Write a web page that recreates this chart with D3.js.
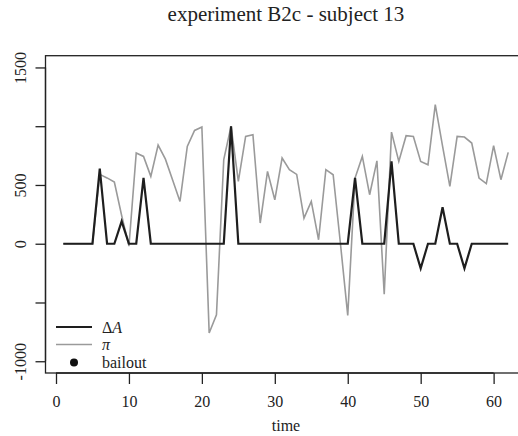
<!DOCTYPE html>
<html>
<head>
<meta charset="utf-8">
<script src="https://cdn.jsdelivr.net/npm/d3@7/dist/d3.min.js"></script>
<style>
  html, body { margin: 0; padding: 0; background: #fff; }
  svg { display: block; }
  text { font-family: "Liberation Serif", "DejaVu Serif", serif; fill: #222; }
</style>
</head>
<body>
<svg id="chart" width="518" height="436"></svg>
<script>
const title = "experiment B2c - subject 13";
const xLabel = "time";
const time = [1,2,3,4,5,6,7,8,9,10,11,12,13,14,15,16,17,18,19,20,21,22,23,24,25,26,27,28,29,30,31,
              32,33,34,35,36,37,38,39,40,41,42,43,44,45,46,47,48,49,50,51,52,53,54,55,56,57,58,59,60,61,62];
const deltaA = [0,0,0,0,0,640,0,0,190,0,0,560,0,0,0,0,0,0,0,0,0,0,0,1000,0,0,0,0,0,0,0,
                0,0,0,0,0,0,0,0,0,560,0,0,0,0,700,0,0,0,-210,0,0,310,0,0,-210,0,0,0,0,0,0];
const pi = [0,0,0,0,0,590,560,525,240,-20,772,743,573,840,720,540,360,828,964,993,-760,-604,715,1000,530,913,928,176,616,374,729,
            630,590,218,360,34,630,587,0,-610,559,743,417,705,-430,950,700,919,913,700,672,1183,830,488,913,908,857,559,511,834,545,777];
const xTicks = [0,10,20,30,40,50,60];
const yTicks = [-1000,-500,0,500,1000,1500];
const yTickLabels = ["-1000","","0","500","","1500"];
const legendLabels = ["\u0394A", "\u03C0", "bailout"];

const svg = d3.select("#chart");
const x = d3.scaleLinear().domain([-1.44, 64.44]).range([45.5, 526]);
const y = d3.scaleLinear().domain([-1100, 1600]).range([373, 55.7]);

// plot box
svg.append("rect")
  .attr("x", x.range()[0]).attr("y", y.range()[1])
  .attr("width", x.range()[1] - x.range()[0])
  .attr("height", y.range()[0] - y.range()[1])
  .attr("fill", "none").attr("stroke", "#222").attr("stroke-width", 1.3);

// x axis
const xAxis = svg.append("g").attr("transform", `translate(0,${y.range()[0]})`)
  .call(d3.axisBottom(x).tickValues(xTicks).tickSize(11).tickPadding(12).tickSizeOuter(0));
xAxis.select(".domain").attr("d", `M${x(xTicks[0])},0H${x(xTicks[xTicks.length-1])}`).attr("stroke", "#222").attr("stroke-width", 1.3);
xAxis.selectAll(".tick line").attr("stroke", "#222").attr("stroke-width", 1.3);
xAxis.selectAll(".tick text").attr("font-size", 16).attr("font-family", "Liberation Serif").attr("fill", "#222");

// y axis
const yAxis = svg.append("g").attr("transform", `translate(${x.range()[0]},0)`)
  .call(d3.axisLeft(y).tickValues(yTicks).tickSize(10).tickSizeOuter(0)
    .tickFormat((d, i) => yTickLabels[i]));
yAxis.select(".domain").attr("d", `M0,${y(yTicks[0])}V${y(yTicks[yTicks.length-1])}`).attr("stroke", "#222").attr("stroke-width", 1.3);
yAxis.selectAll(".tick line").attr("stroke", "#222").attr("stroke-width", 1.3);
yAxis.selectAll(".tick text")
  .attr("font-size", 16).attr("font-family", "Liberation Serif").attr("fill", "#222")
  .attr("x", null).attr("dy", null)
  .attr("text-anchor", "middle")
  .attr("transform", "translate(-20,0) rotate(-90)");

// lines
const line = d3.line().x((d, i) => x(time[i])).y(d => y(d));
svg.append("path").datum(pi).attr("d", line)
  .attr("fill", "none").attr("stroke", "#9a9a9a").attr("stroke-width", 1.6).attr("stroke-linejoin", "miter");
svg.append("path").datum(deltaA).attr("d", line)
  .attr("fill", "none").attr("stroke", "#1e1e1e").attr("stroke-width", 2.2).attr("stroke-linejoin", "miter");

// title
svg.append("text").attr("x", 286).attr("y", 21).attr("text-anchor", "middle")
  .attr("font-size", 21).text(title);

// x label
svg.append("text").attr("x", 286).attr("y", 431).attr("text-anchor", "middle")
  .attr("font-size", 16).text(xLabel);

// legend
const lg = svg.append("g");
const ly = [327, 344.5, 362.5];
lg.append("line").attr("x1", 56).attr("x2", 92).attr("y1", ly[0]).attr("y2", ly[0])
  .attr("stroke", "#1e1e1e").attr("stroke-width", 2.2);
lg.append("line").attr("x1", 56).attr("x2", 92).attr("y1", ly[1]).attr("y2", ly[1])
  .attr("stroke", "#9a9a9a").attr("stroke-width", 1.6);
lg.append("circle").attr("cx", 74).attr("cy", ly[2]).attr("r", 4).attr("fill", "#111");
const t0 = lg.append("text").attr("x", 102).attr("y", ly[0] + 5.5).attr("font-size", 16);
t0.append("tspan").text(legendLabels[0].charAt(0));
t0.append("tspan").attr("font-style", "italic").text(legendLabels[0].charAt(1));
lg.append("text").attr("x", 102).attr("y", ly[1] + 5.5).attr("font-size", 16)
  .attr("font-style", "italic").text(legendLabels[1]);
lg.append("text").attr("x", 102).attr("y", ly[2] + 5.5).attr("font-size", 16).text(legendLabels[2]);
</script>
</body>
</html>
